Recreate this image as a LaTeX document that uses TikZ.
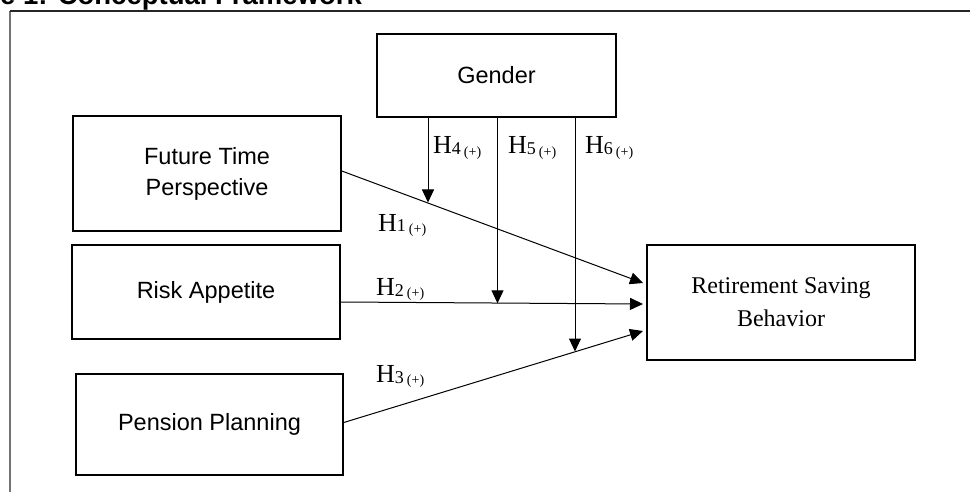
\documentclass[tikz,border=0pt]{standalone}
\usepackage{fontspec}
\setmainfont{Liberation Sans}
\newfontfamily\serifrm{Liberation Serif}
\usetikzlibrary{arrows.meta}
\tikzset{
  varbox/.style={draw, line width=1.6pt, inner sep=0pt, align=center,
    font=\fontsize{23.5}{31}\selectfont},
  hyparrow/.style={line width=1pt, -{Triangle[length=13pt,width=12pt]}},
  hyplabel/.style={anchor=base west, inner sep=0pt}
}
\newcommand{\hyp}[1]{{\serifrm\fontsize{26}{26}\selectfont H\raisebox{-1pt}{\fontsize{18}{18}\selectfont #1}\hspace{3pt}\raisebox{-2pt}{\fontsize{14}{14}\selectfont (+)}}}
\begin{document}
\begin{tikzpicture}[x=1pt,y=1pt,yscale=-1,xscale=1]
    \useasboundingbox (0,0) rectangle (970,492);
    \clip (0,0) rectangle (970,492);
    % caption, cut by the page
    \node [anchor=base west, inner sep=0pt, font=\bfseries\fontsize{27.5}{27.5}\selectfont] (title) at (0,5) {e 1: Conceptual Framework};
    \draw [black!55, line width=1.3pt] (10,500) -- (10,11);
    \draw [black!85, line width=1.3pt] (10,11) -- (980,11);
    % variables
    \node [varbox, minimum width=239pt, minimum height=83pt] (gender) at (496.5,75.5) {Gender};
    \node [varbox, minimum width=268pt, minimum height=115pt] (ftp) at (207,173.5) {Future Time\\Perspective};
    \node [varbox, minimum width=268pt, minimum height=94pt] (risk) at (206,292) {Risk Appetite};
    \node [varbox, minimum width=267pt, minimum height=101pt] (pension) at (209.5,424.5) {Pension Planning};
    \node [varbox, minimum width=268pt, minimum height=115pt, font=\serifrm\fontsize{24}{33}\selectfont] (rsb) at (781,302.5) {Retirement Saving\\Behavior};
    % arrow ends
    \coordinate (t1) at (643,283);
    \coordinate (t2) at (643,304);
    \coordinate (t3) at (643,331);
    \coordinate (m4) at (428,202.5);
    \coordinate (m5) at (497.5,303.3);
    \coordinate (m6) at (575,351.5);
    % direct paths
    \draw [hyparrow] ([yshift=-2.5pt]ftp.east) -- (t1);
    \draw [hyparrow] ([yshift=10pt]risk.east) -- (t2);
    \draw [hyparrow] ([yshift=-2pt]pension.east) -- (t3);
    % moderation
    \draw [hyparrow] (gender.south -| m4) -- (m4);
    \draw [hyparrow] (gender.south -| m5) -- (m5);
    \draw [hyparrow] (gender.south -| m6) -- (m6);
    % labels
    \node [hyplabel] (h1) at (378,231) {\hyp{1}};
    \node [hyplabel] (h2) at (376,295) {\hyp{2}};
    \node [hyplabel] (h3) at (376,382) {\hyp{3}};
    \node [hyplabel] (h4) at (433,154) {\hyp{4}};
    \node [hyplabel] (h5) at (508,154) {\hyp{5}};
    \node [hyplabel] (h6) at (585,154) {\hyp{6}};
\end{tikzpicture}
\end{document}
